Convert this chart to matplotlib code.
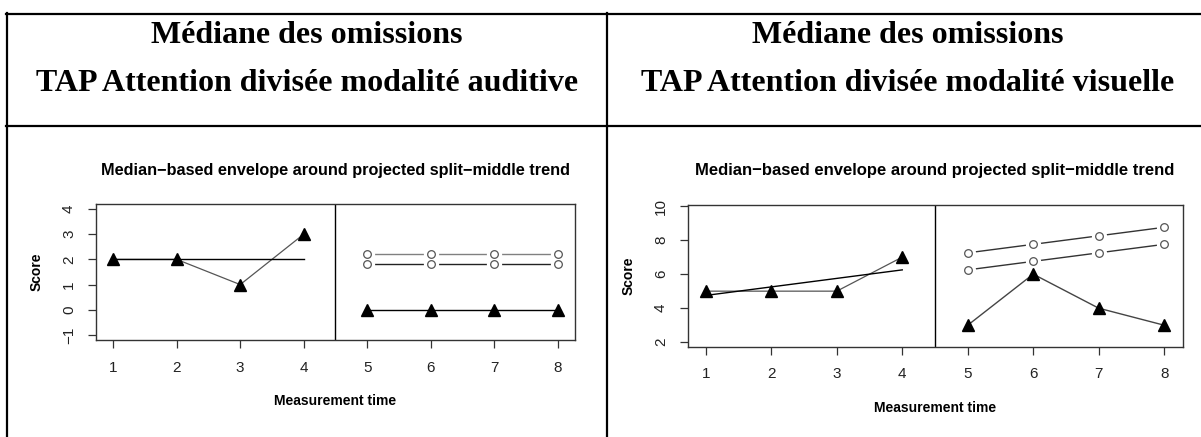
import matplotlib
matplotlib.use("Agg")
import matplotlib.pyplot as plt

plt.rcParams['font.family'] = ['Liberation Sans', 'DejaVu Sans']

# --- données ---
x_a = [1, 2, 3, 4]
x_b = [5, 6, 7, 8]
trend_x = [1, 4]

aud_a = [2, 2, 1, 3]
aud_b = [0, 0, 0, 0]
aud_trend = [2, 2]
aud_upper = [2.2, 2.2, 2.2, 2.2]
aud_lower = [1.8, 1.8, 1.8, 1.8]
aud_yticks = [-1, 0, 1, 2, 3, 4]

vis_a = [5, 5, 5, 7]
vis_b = [3, 6, 4, 3]
vis_trend = [4.75, 6.25]
vis_upper = [7.25, 7.75, 8.25, 8.75]
vis_lower = [6.25, 6.75, 7.25, 7.75]
vis_yticks = [2, 4, 6, 8, 10]

headers = ["Médiane des omissions\nTAP Attention divisée modalité auditive",
           "Médiane des omissions\nTAP Attention divisée modalité visuelle"]
title = "Median\u2212based envelope around projected split\u2212middle trend"

W, H = 1201, 437
fig = plt.figure(figsize=(W / 100, H / 100), dpi=100)
fig.patch.set_facecolor('white')

# fond en pixels pour le tableau
bg = fig.add_axes([0, 0, 1, 1])
bg.set_xlim(0, W)
bg.set_ylim(H, 0)
bg.axis('off')
lw_tab = 1.6
bg.plot([6, W], [13.5, 13.5], color='black', lw=lw_tab)
bg.plot([6, W], [126, 126], color='black', lw=lw_tab)
bg.plot([7, 7], [13, H], color='black', lw=lw_tab)
bg.plot([607, 607], [13, H], color='black', lw=lw_tab)

for cx, txt in zip([307, 908], headers):
    l1, l2 = txt.split("\n")
    bg.text(cx, 43, l1, ha='center', va='baseline', fontsize=23,
            fontweight='bold', family='Liberation Serif')
    bg.text(cx, 91, l2, ha='center', va='baseline', fontsize=23,
            fontweight='bold', family='Liberation Serif')


def panel(rect, ya, yb, trend, upper, lower, yticks, ylim,
          up_col, lo_col, b_col, tsize):
    ax = fig.add_axes(rect)
    ax.set_xlim(0.72, 8.28)
    ax.set_ylim(*ylim)
    for s in ax.spines.values():
        s.set_color('#333333')
        s.set_linewidth(1.0)
    ax.set_xticks(x_a + x_b)
    ax.set_yticks(yticks)
    ax.tick_params(axis='both', length=6, width=0.9, color='#333333',
                   labelsize=11, labelcolor='#222222')
    ax.tick_params(axis='x', pad=9)
    ax.tick_params(axis='y', pad=8)
    for lab in ax.get_yticklabels():
        lab.set_rotation(90)
        lab.set_va('center')

    ax.axvline(4.5, color='black', lw=1.0)

    # phase A
    ax.plot(x_a, ya, color='#555555', lw=0.9, zorder=2)
    ax.plot(trend_x, trend, color='black', lw=1.0, zorder=2)
    # phase B
    ax.plot(x_b, yb, color=b_col, lw=1.0, zorder=2)
    ax.plot(x_b, upper, color=up_col, lw=1.0, zorder=2)
    ax.plot(x_b, lower, color=lo_col, lw=1.0, zorder=2)
    # trous autour des cercles (type="b")
    for env in (upper, lower):
        ax.plot(x_b, env, ls='none', marker='o', ms=11, mfc='white',
                mec='none', zorder=3)
    for env in (upper, lower):
        ax.plot(x_b, env, ls='none', marker='o', ms=5.5, mfc='white',
                mec='#555555', mew=0.9, zorder=4)
    ax.plot(x_a, ya, ls='none', marker='^', ms=8, color='black', zorder=5)
    ax.plot(x_b, yb, ls='none', marker='^', ms=8, color='black', zorder=5)

    ax.annotate(title, xy=(0.5, 1), xycoords='axes fraction',
                xytext=(0, 34), textcoords='offset pixels',
                ha='center', va='center', fontsize=tsize, fontweight='bold')
    ax.annotate("Measurement time", xy=(0.5, 0), xycoords='axes fraction',
                xytext=(0, -61), textcoords='offset pixels',
                ha='center', va='center', fontsize=10, fontweight='bold')
    ax.annotate("Score", xy=(0, 0.5), xycoords='axes fraction',
                xytext=(-59, 0), textcoords='offset pixels',
                ha='center', va='center', fontsize=10, fontweight='bold',
                rotation=90)
    return ax


panel([95.5 / W, 1 - 340 / H, (575.3 - 95.5) / W, 136 / H],
      aud_a, aud_b, aud_trend, aud_upper, aud_lower, aud_yticks,
      (-1.2, 4.2), '#808080', '#222222', 'black', 11.7)
panel([687.5 / W, 1 - 346.5 / H, (1182.5 - 687.5) / W, 141.5 / H],
      vis_a, vis_b, vis_trend, vis_upper, vis_lower, vis_yticks,
      (1.75, 10.06), '#333333', '#333333', '#444444', 12)

fig.savefig("out.png", dpi=100)
